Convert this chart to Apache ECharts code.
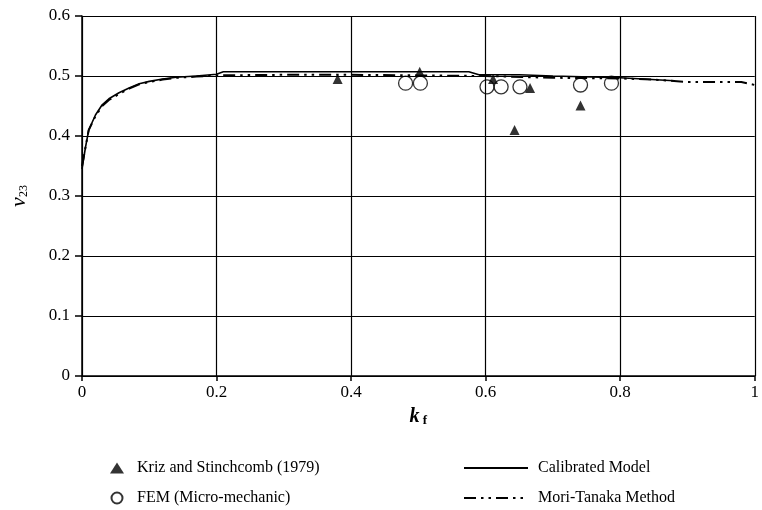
<!DOCTYPE html>
<html>
<head>
<meta charset="utf-8">
<script src="https://cdn.jsdelivr.net/npm/echarts@6/dist/echarts.min.js"></script>
<style>
  html, body { margin: 0; padding: 0; background: #fff; }
  #chart { width: 762px; height: 510px; }
</style>
</head>
<body>
<div id="chart"></div>
<script>
// data
var krizK = [0.38, 0.502, 0.611, 0.643, 0.666, 0.741];
var krizV = [0.495, 0.507, 0.495, 0.41, 0.48, 0.451];

var femK = [0.481, 0.503, 0.602, 0.623, 0.651, 0.741, 0.787];
var femV = [0.488, 0.488, 0.482, 0.482, 0.482, 0.485, 0.488];

var calK = [0, 0.005, 0.01, 0.02, 0.03, 0.04, 0.055, 0.07, 0.085, 0.1, 0.12, 0.14, 0.17, 0.2, 0.21, 0.3, 0.4, 0.5, 0.575, 0.59, 0.65, 0.7, 0.8, 0.88];
var calV = [0.345, 0.38, 0.41, 0.435, 0.452, 0.462, 0.472, 0.48, 0.487, 0.491, 0.495, 0.498, 0.5, 0.503, 0.507, 0.507, 0.507, 0.507, 0.507, 0.502, 0.502, 0.5, 0.497, 0.492];

var mtK = [0, 0.005, 0.01, 0.02, 0.03, 0.04, 0.055, 0.07, 0.085, 0.1, 0.12, 0.14, 0.17, 0.2, 0.3, 0.4, 0.5, 0.6, 0.7, 0.8, 0.85, 0.9, 0.95, 0.98, 1.0];
var mtV = [0.35, 0.38, 0.41, 0.433, 0.45, 0.46, 0.47, 0.479, 0.486, 0.49, 0.494, 0.497, 0.499, 0.501, 0.502, 0.502, 0.501, 0.5, 0.497, 0.496, 0.494, 0.49, 0.49, 0.49, 0.485];

function pairs(xs, ys) {
    var out = [];
    for (var i = 0; i < xs.length; i++) out.push([xs[i], ys[i]]);
    return out;
}

var font = 'Liberation Serif';
var chart = echarts.init(document.getElementById('chart'));

var option = {
    backgroundColor: '#fff',
    animation: false,
    textStyle: { fontFamily: font, color: '#000' },
    grid: { left: 81, right: 4, top: 16, bottom: 134 },
    legend: [{
        orient: 'vertical',
        left: 110, top: 460,
        padding: 0,
        itemGap: 14, itemWidth: 14, itemHeight: 11,
        textStyle: { fontFamily: font, fontSize: 16, color: '#000', padding: [0, 0, 0, 8] },
        data: ['Kriz and Stinchcomb (1979)', 'FEM (Micro-mechanic)']
    }, {
        orient: 'vertical',
        left: 463, top: 460,
        padding: 0,
        itemGap: 14, itemWidth: 64, itemHeight: 11,
        textStyle: { fontFamily: font, fontSize: 16, color: '#000', padding: [0, 0, 0, 5] },
        data: [
            { name: 'Calibrated Model', itemStyle: { opacity: 0 } },
            { name: 'Mori-Tanaka Method', itemStyle: { opacity: 0 } }
        ]
    }],
    xAxis: {
        type: 'value',
        min: 0, max: 1, interval: 0.2,
        name: '{k|k}{f| f}',
        nameLocation: 'middle',
        nameGap: 30,
        nameTextStyle: {
            rich: {
                k: { fontFamily: font, fontSize: 20, fontWeight: 'bold', fontStyle: 'italic' },
                f: { fontFamily: font, fontSize: 13, fontWeight: 'bold', verticalAlign: 'bottom', padding: [8, 0, 0, 0] }
            }
        },
        axisLine: { lineStyle: { color: '#000', width: 1.5 } },
        axisTick: { show: true, length: 5, lineStyle: { color: '#000', width: 1.5 } },
        axisLabel: { fontFamily: font, fontSize: 17, color: '#000', margin: 8 },
        splitLine: { show: true, lineStyle: { color: '#000', width: 1.2 } }
    },
    yAxis: {
        type: 'value',
        min: 0, max: 0.6, interval: 0.1,
        name: '{v|ν}{s|23}',
        nameLocation: 'middle',
        nameRotate: 90,
        nameGap: 52,
        nameTextStyle: {
            rich: {
                v: { fontFamily: font, fontSize: 22, fontStyle: 'italic' },
                s: { fontFamily: font, fontSize: 12, verticalAlign: 'bottom', padding: [8, 0, 0, 0] }
            }
        },
        axisLine: { show: true, lineStyle: { color: '#000', width: 1.5 } },
        axisTick: { show: true, length: 7, lineStyle: { color: '#000', width: 1.5 } },
        axisLabel: { fontFamily: font, fontSize: 17, color: '#000', margin: 12 },
        splitLine: { show: true, lineStyle: { color: '#000', width: 1.2 } }
    },
    series: [{
        name: 'Calibrated Model',
        type: 'line',
        symbol: 'none',
        lineStyle: { color: '#000', width: 1.6 },
        itemStyle: { color: '#000' },
        data: pairs(calK, calV)
    }, {
        name: 'Mori-Tanaka Method',
        type: 'line',
        symbol: 'none',
        lineStyle: { color: '#000', width: 2, type: [12, 5, 2.5, 5, 2.5, 5] },
        itemStyle: { color: '#000' },
        data: pairs(mtK, mtV)
    }, {
        name: 'Kriz and Stinchcomb (1979)',
        type: 'scatter',
        symbol: 'triangle',
        symbolSize: 10,
        itemStyle: { color: '#000' },
        data: pairs(krizK, krizV),
        z: 4
    }, {
        name: 'FEM (Micro-mechanic)',
        type: 'scatter',
        symbol: 'circle',
        symbolSize: 14,
        itemStyle: { color: 'rgba(255,255,255,0)', borderColor: '#000', borderWidth: 1.3 },
        data: pairs(femK, femV),
        z: 5
    }]
};

chart.setOption(option);
</script>
</body>
</html>
